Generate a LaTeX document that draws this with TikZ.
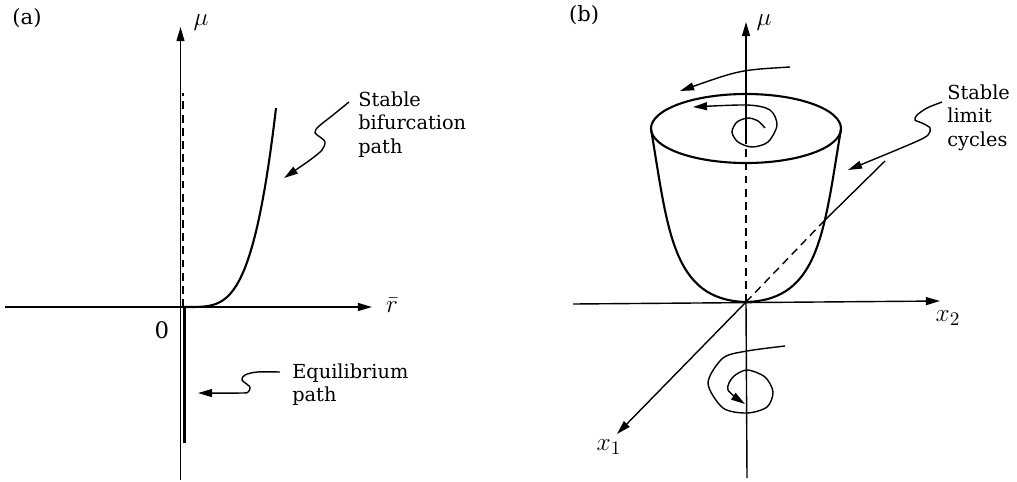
\documentclass[tikz,border=0pt]{standalone}
\usepackage{fontspec}
\setmainfont{DejaVu Serif}
\usetikzlibrary{arrows.meta}
\tikzset{
  axis/.style={->, line width=0.8pt},
  plain/.style={line width=0.8pt},
  pathline/.style={line width=1.2pt},
  hidden/.style={line width=0.8pt, dash pattern=on 4.5pt off 3pt},
  lbl/.style={align=left, anchor=north west, inner sep=0pt,
    font=\fontsize{11}{13.6}\selectfont},
  tag/.style={inner sep=1pt, font=\fontsize{12}{14}\selectfont},
  sym/.style={inner sep=1pt, font=\fontsize{15}{17}\selectfont},
}
\begin{document}
\begin{tikzpicture}[x=0.02cm, y=-0.02cm, >={Stealth[length=8pt,width=4.5pt,inset=0pt]}]
  \useasboundingbox (0,0) rectangle (1017,481);
  % ---------- (a): bifurcation diagram in (r, mu)
  \node[tag] (tagA) at (27,18) {(a)};
  \coordinate (Oa) at (180.5,307);
  \coordinate (muAbot) at (180.5,480);
  \coordinate (muAtop) at (180.5,27);
  \coordinate (rAleft) at (5,307);
  \coordinate (rAright) at (372,307);
  \draw[axis] (muAbot) -- (muAtop);
  \draw[axis] (rAleft) -- (rAright);
  \node[sym] (muA) at (201,23) {$\mu$};
  \node[sym] (rA) at (392,305) {$\bar{r}$};
  \node[tag, font=\fontsize{13}{15}\selectfont] (zeroA) at (162,330) {0};
  % trivial branch: unstable above, stable below
  \coordinate (unstTop) at (183,93);
  \coordinate (unstBot) at (183,307);
  \coordinate (stabBot) at (184.5,443);
  \draw[hidden] (unstBot) -- (unstTop);
  \draw[pathline] (unstBot -| stabBot) -- (stabBot);
  % supercritical branch
  \draw[pathline] plot[domain=0:93, samples=50] ({183+\x},{307-199*(\x/93)^4});
  % labels with wavy pointers
  \node[lbl] (bifA) at (358,91) {Stable\\bifurcation\\path};
  \coordinate (bifFrom) at (349,102);
  \coordinate (bifTo) at (284,178);
  \draw[plain, ->] plot[smooth] coordinates {(bifFrom) (333,115) (318,127)
    (315,133) (320,137) (325,142) (322,150) (310,160) (bifTo)};
  \node[lbl] (eqA) at (292,363) {Equilibrium\\path};
  \coordinate (eqFrom) at (280,372);
  \coordinate (eqTo) at (198,393);
  \draw[plain, ->] plot[smooth] coordinates {(eqFrom) (257,372) (245,375)
    (242,380) (250,387) (248,392) (242,393) (eqTo)};
  % ---------- (b): limit cycles in (x1, x2, mu)
  \node[tag] (tagB) at (584,15) {(b)};
  \coordinate (Ob) at (746,302);
  \coordinate (muBbot) at (747,478);
  \coordinate (muBtop) at (746,22);
  \coordinate (muBhid) at (746,142);
  \coordinate (x2left) at (573,304);
  \coordinate (x2right) at (940,301);
  \coordinate (x1tip) at (617,434);
  \coordinate (x1hid) at (824,221);
  \coordinate (x1end) at (885,161);
  \draw[plain] (muBbot) -- (Ob);
  \draw[hidden] (Ob) -- (muBhid);
  \draw[axis] (muBhid) -- (muBtop);
  \draw[axis] (x2left) -- (x2right);
  \draw[axis] (Ob) -- (x1tip);
  \draw[hidden] (Ob) -- (x1hid);
  \draw[plain] (x1hid) -- (x1end);
  \node[sym] (muB) at (764,23) {$\mu$};
  \node[sym] (x2B) at (948,318) {$x_2$};
  \node[sym] (x1B) at (609,447) {$x_1$};
  % the cup of limit cycles
  \draw[pathline] (746,128.5) ellipse [x radius=95, y radius=34.5];
  \draw[pathline] (651,129) .. controls (668,230) and (672,300) .. (Ob)
    .. controls (820,300) and (824,230) .. (841,129);
  % spiralling trajectories
  \draw[plain, ->] (790,67) .. controls (740,70) .. (680,91);
  \draw[plain, ->] plot[smooth] coordinates {(765,128) (758,121) (748,118)
    (737,122) (732,132) (738,142) (752,147) (768,142) (777,125) (770,110)
    (747,105) (693,107)};
  \draw[plain, ->] plot[smooth] coordinates {(785,346) (747,351) (723,358)
    (708,383) (723,408) (747,413) (767,407) (773,392) (765,377) (747,370)
    (733,377) (728,390) (745,404)};
  \node[lbl] (lcB) at (947,84) {Stable\\limit\\cycles};
  \coordinate (lcFrom) at (942,102);
  \coordinate (lcTo) at (848,170);
  \draw[plain, ->] plot[smooth] coordinates {(lcFrom) (927,108) (917,115)
    (915,120) (922,123) (930,128) (928,135) (913,143) (lcTo)};
\end{tikzpicture}
\end{document}
